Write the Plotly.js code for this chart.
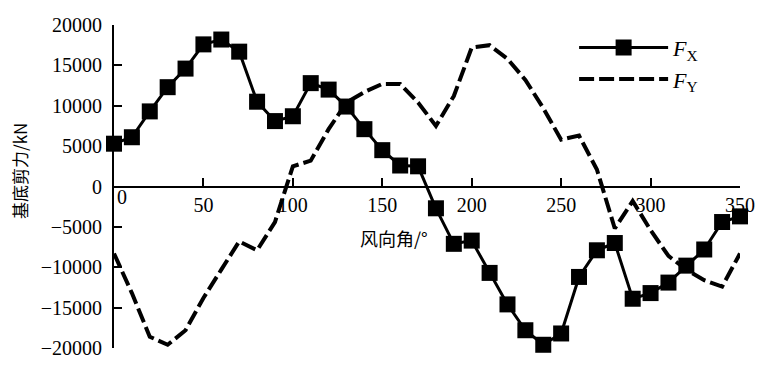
<!DOCTYPE html>
<html>
<head>
<meta charset="utf-8">
<script src="https://cdn.plot.ly/plotly-3.0.1.min.js"></script>
<style>
html,body{margin:0;padding:0;background:#fff;}
#chart{width:760px;height:385px;}
</style>
</head>
<body>
<div id="chart"></div>
<script>
// wind direction angles (degrees)
const angles = [0,10,20,30,40,50,60,70,80,90,100,110,120,130,140,150,160,170,180,190,200,210,220,230,240,250,260,270,280,290,300,310,320,330,340,350];
// base shear force F_X (kN)
const fx = [5300,6100,9300,12300,14600,17600,18200,16700,10500,8100,8700,12800,12000,9900,7100,4500,2600,2500,-2700,-7100,-6700,-10700,-14600,-17800,-19600,-18200,-11200,-7900,-7000,-13900,-13200,-11900,-9800,-7800,-4400,-3700];
// base shear force F_Y (kN)
const fy = [-8300,-13200,-18600,-19600,-17800,-13800,-10300,-6800,-7900,-4400,2500,3200,7100,10400,11700,12700,12700,10400,7500,11200,17200,17500,15800,13200,9700,5800,6300,2100,-5200,-1800,-5400,-8600,-10300,-11600,-12400,-8300];
const xTicks = [0,50,100,150,200,250,300,350];
const xTickText = ['','50','100','150','200','250','300','350'];
const yTicks = [-20000,-15000,-10000,-5000,0,5000,10000,15000,20000];

const traces = [
  {
    x: angles, y: fx, name: '<i>F</i><sub>X</sub>', type: 'scatter', mode: 'lines+markers',
    line: {color: '#000', width: 3},
    marker: {symbol: 'square', size: 16, color: '#000'},
    cliponaxis: false
  },
  {
    x: angles, y: fy, name: '<i>F</i><sub>Y</sub>', type: 'scatter', mode: 'lines',
    line: {color: '#000', width: 4, dash: '15px,5px'},
    cliponaxis: false
  }
];

const layout = {
  width: 760, height: 385,
  margin: {l: 114, r: 20, t: 25, b: 37},
  paper_bgcolor: '#fff', plot_bgcolor: 'rgba(0,0,0,0)',
  font: {family: 'Liberation Serif, Times New Roman, serif', size: 20, color: '#000'},
  showlegend: true,
  legend: {
    x: 0.735, y: 0.995, xanchor: 'left', yanchor: 'top',
    bgcolor: 'rgba(0,0,0,0)', itemwidth: 89,
    font: {family: 'Liberation Serif, serif', size: 22, color: '#000'}
  },
  xaxis: {
    range: [0, 350], anchor: 'free', position: 0.5,
    tickvals: xTicks, ticktext: xTickText,
    showline: true, linecolor: '#000', linewidth: 2,
    ticks: 'inside', ticklen: 8, tickwidth: 2, tickcolor: '#000',
    showgrid: false, zeroline: false,
    tickfont: {family: 'Liberation Serif, serif', size: 20, color: '#000'}
  },
  yaxis: {
    range: [-20000, 20000], tickvals: yTicks, tickformat: 'd',
    showline: true, linecolor: '#000', linewidth: 2,
    ticks: 'inside', ticklen: 8, tickwidth: 2, tickcolor: '#000',
    ticklabelstandoff: 6,
    showgrid: false, zeroline: false,
    tickfont: {family: 'Liberation Serif, serif', size: 20, color: '#000'}
  },
  annotations: [
    {text: '0', xref: 'paper', yref: 'paper', x: (122 - 114) / 626, y: (348 - 197) / 323,
     showarrow: false, xanchor: 'center', yanchor: 'middle',
     font: {family: 'Liberation Serif, serif', size: 20, color: '#000'}},
    {text: '风向角/°', xref: 'paper', yref: 'paper', x: (394 - 114) / 626, y: (348 - 238) / 323,
     showarrow: false, xanchor: 'center', yanchor: 'middle',
     font: {family: 'Noto Sans CJK SC, sans-serif', size: 18, color: '#000'}},
    {text: '基底剪力/kN', xref: 'paper', yref: 'paper', x: (19 - 114) / 626, y: (348 - 171) / 323,
     showarrow: false, xanchor: 'center', yanchor: 'middle', textangle: -90,
     font: {family: 'Noto Sans CJK SC, sans-serif', size: 17, color: '#000'}}
  ]
};

Plotly.newPlot('chart', traces, layout, {displayModeBar: false, staticPlot: true});
</script>
</body>
</html>
